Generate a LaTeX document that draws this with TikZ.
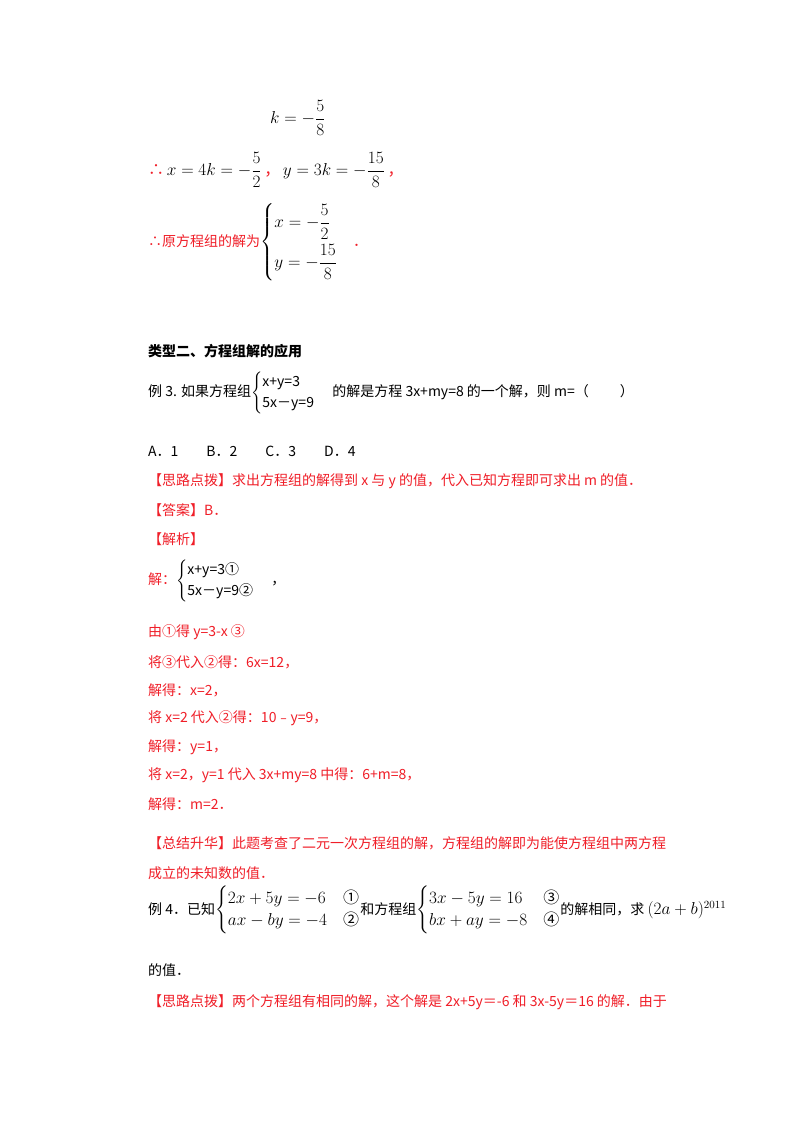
\documentclass[tikz,border=0pt]{standalone}
\usepackage{amsmath}
\usepackage{amssymb}
\usepackage{fontspec}
\newfontfamily\cjk{Noto Sans CJK SC}
\usetikzlibrary{positioning}
\definecolor{hintred}{RGB}{240,30,40}
\tikzset{
  line/.style={anchor=west,inner sep=0pt,font=\fontsize{14}{17}\selectfont\cjk},
  redline/.style={line,text=hintred},
  eqs/.style={anchor=west,inner sep=0pt,font=\fontsize{16}{19}\selectfont}
}
\begin{document}
\begin{tikzpicture}[x=1pt,y=-1pt]
\useasboundingbox[fill=white] (0,0) rectangle (800,1132);

% end of the previous solution
\node[eqs] (kval) at (270,118) {$k=-\dfrac{5}{8}$};
\node[eqs] (xy) at (148,170) {{\cjk\color{hintred}∴}\,$x=4k=-\dfrac{5}{2}$\,{\cjk\color{hintred}，}\,$y=3k=-\dfrac{15}{8}$\,{\cjk\color{hintred}，}};
\node[eqs] (sol) at (148,242) {{\color{hintred}\fontsize{14}{17}\selectfont\cjk ∴原方程组的解为}$\begin{cases}x=-\dfrac{5}{2}\\[10pt] y=-\dfrac{15}{8}\end{cases}${\color{hintred}\textbf{.}}};

% type two
\node[line,font=\fontsize{14}{17}\selectfont\cjk\bfseries] (title) at (148,351) {类型二、方程组解的应用};
\node[line] (ex3) at (148,393) {例 3. 如果方程组$\begin{cases}\text{\cjk x+y=3}\\ \text{\cjk 5x－y=9}\end{cases}$ 的解是方程 3x+my=8 的一个解，则 m=（\qquad\ ）};
\node[line] (choices) at (148,451) {A．1\qquad B．2\qquad C．3\qquad D．4};
\node[redline] (hint3) at (148,481) {【思路点拨】求出方程组的解得到 x 与 y 的值，代入已知方程即可求出 m 的值．};
\node[redline] (ans3) at (148,510) {【答案】B．};
\node[redline] (ana3) at (148,539) {【解析】};
\node[line] (jie) at (148,581) {{\color{hintred}解：}$\begin{cases}\text{\cjk x+y=3①}\\ \text{\cjk 5x－y=9②}\end{cases}$ ，};
\node[redline] (s1) at (148,632) {由①得 y=3-x ③};
\node[redline] (s2) at (148,662) {将③代入②得：6x=12，};
\node[redline] (s3) at (148,690) {解得：x=2，};
\node[redline] (s4) at (148,718) {将 x=2 代入②得：10﹣y=9，};
\node[redline] (s5) at (148,747) {解得：y=1，};
\node[redline] (s6) at (148,775) {将 x=2，y=1 代入 3x+my=8 中得：6+m=8，};
\node[redline] (s7) at (148,804) {解得：m=2．};
\node[redline] (sum3) at (148,843) {【总结升华】此题考查了二元一次方程组的解，方程组的解即为能使方程组中两方程};
\node[redline] (sum3b) at (148,873) {成立的未知数的值．};

% example four
\node[line,font=\fontsize{14}{18}\selectfont\cjk] (ex4) at (148,910) {例 4．已知{\fontsize{16}{19}\selectfont$\begin{cases}2x+5y=-6 & \text{\cjk ①}\\ ax-by=-4 & \text{\cjk ②}\end{cases}$}和方程组{\fontsize{16}{19}\selectfont$\begin{cases}3x-5y=16 & \text{\cjk ③}\\ bx+ay=-8 & \text{\cjk ④}\end{cases}$}的解相同，求 {\fontsize{16}{19}\selectfont$(2a+b)^{2011}$}};
\node[line] (ex4b) at (148,970) {的值．};
\node[redline] (hint4) at (148,1002) {【思路点拨】两个方程组有相同的解，这个解是 2x+5y＝-6 和 3x-5y＝16 的解．由于};
\end{tikzpicture}
\end{document}
